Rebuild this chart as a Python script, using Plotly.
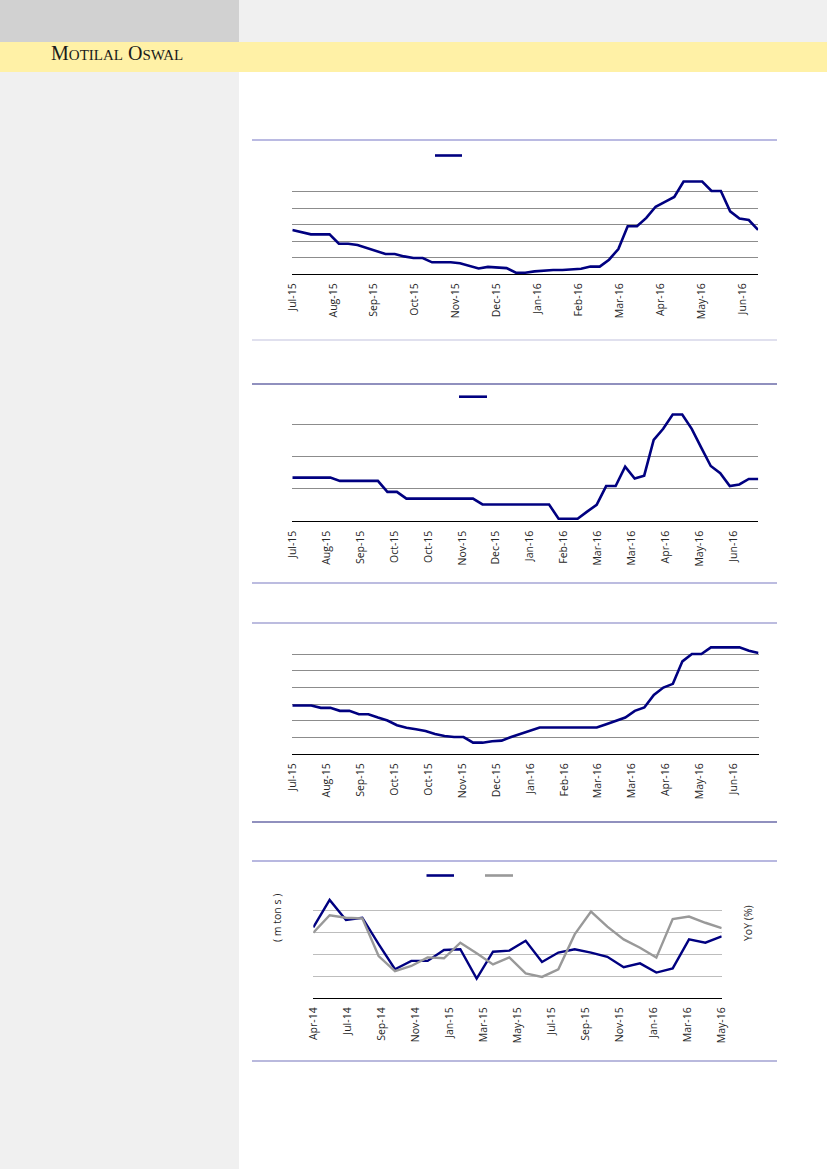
import plotly.graph_objects as go

W, H = 827, 1169

# ---------------- data ----------------
c1_values = [2.68, 2.55, 2.41, 2.41, 2.41, 1.84, 1.84, 1.76, 1.58, 1.40,
             1.22, 1.22, 1.07, 0.97, 0.97, 0.71, 0.71, 0.71, 0.65, 0.49,
             0.34, 0.43, 0.41, 0.36, 0.08, 0.08, 0.16, 0.22, 0.24, 0.24,
             0.28, 0.32, 0.45, 0.45, 0.87, 1.52, 2.90, 2.90, 3.41, 4.09,
             4.38, 4.68, 5.62, 5.62, 5.62, 5.05, 5.05, 3.81, 3.37, 3.28,
             2.68]
c1_ticks = ["Jul-15", "Aug-15", "Sep-15", "Oct-15", "Nov-15", "Dec-15",
            "Jan-16", "Feb-16", "Mar-16", "Apr-16", "May-16", "Jun-16"]

c2_values = [1.35, 1.35, 1.35, 1.35, 1.35, 1.25, 1.25, 1.25, 1.25, 1.25,
             0.91, 0.91, 0.70, 0.70, 0.70, 0.70, 0.70, 0.70, 0.70, 0.70,
             0.52, 0.52, 0.52, 0.52, 0.52, 0.52, 0.52, 0.52, 0.08, 0.08,
             0.08, 0.30, 0.51, 1.09, 1.09, 1.69, 1.32, 1.41, 2.52, 2.86,
             3.30, 3.30, 2.86, 2.28, 1.71, 1.49, 1.09, 1.14, 1.31, 1.31]
c2_ticks = ["Jul-15", "Aug-15", "Sep-15", "Oct-15", "Oct-15", "Nov-15",
            "Dec-15", "Jan-16", "Feb-16", "Mar-16", "Mar-16", "Apr-16",
            "May-16", "Jun-16"]

c3_values = [2.91, 2.91, 2.91, 2.77, 2.77, 2.59, 2.59, 2.39, 2.39, 2.19,
             2.01, 1.73, 1.57, 1.49, 1.38, 1.20, 1.08, 1.02, 1.02, 0.68,
             0.68, 0.77, 0.80, 1.02, 1.22, 1.40, 1.59, 1.59, 1.59, 1.59,
             1.59, 1.59, 1.59, 1.79, 1.99, 2.19, 2.59, 2.79, 3.55, 3.99,
             4.21, 5.56, 6.00, 6.00, 6.40, 6.40, 6.40, 6.40, 6.20, 6.06]
c3_ticks = ["Jul-15", "Aug-15", "Sep-15", "Oct-15", "Oct-15", "Nov-15",
            "Dec-15", "Jan-16", "Feb-16", "Mar-16", "Mar-16", "Apr-16",
            "May-16", "Jun-16"]

c4_volume = [3.22, 4.47, 3.56, 3.66, 2.46, 1.31, 1.69, 1.69, 2.19, 2.22,
             0.88, 2.11, 2.16, 2.61, 1.64, 2.07, 2.22, 2.07, 1.88, 1.40,
             1.58, 1.16, 1.35, 2.67, 2.52, 2.81]
c4_yoy = [2.98, 3.77, 3.66, 3.63, 1.91, 1.22, 1.46, 1.85, 1.81, 2.52,
          2.04, 1.53, 1.85, 1.12, 0.96, 1.31, 2.90, 3.94, 3.25, 2.67,
          2.29, 1.84, 3.60, 3.71, 3.43, 3.18]
c4_ticks = ["Apr-14", "Jul-14", "Sep-14", "Nov-14", "Jan-15", "Mar-15",
            "May-15", "Jul-15", "Sep-15", "Nov-15", "Jan-16", "Mar-16",
            "May-16"]

# ---------------- helpers ----------------
def px_x(v):
    return v / W

def px_y(v):
    return 1 - v / H

NAVY = "#000080"
TICKFONT = dict(family="Open Sans, Noto Sans, sans-serif", size=10.5, color="#262626")

fig = go.Figure()

charts = [
    # values, ticks, tick step (in points), x px range, y px (bottom, top), ymax, gridcolor
    (c1_values, c1_ticks, 4.39, (292.3, 758.1), (274.0, 175.3), 6.0, "#8c8c8c"),
    (c2_values, c2_ticks, 3.571, (292.3, 758.3), (521.3, 408.1), 3.5, "#8c8c8c"),
    (c3_values, c3_ticks, 3.571, (292.3, 758.5), (754.0, 640.7), 6.8, "#8c8c8c"),
]

layout = {}
for k, (vals, ticks, step, (x0, x1), (yb, yt), ymax, gc) in enumerate(charts, start=1):
    xa = "x" if k == 1 else f"x{k}"
    ya = "y" if k == 1 else f"y{k}"
    fig.add_trace(go.Scatter(x=list(range(len(vals))), y=vals, mode="lines",
                             line=dict(color=NAVY, width=2.6),
                             xaxis=xa, yaxis=ya, showlegend=False,
                             hoverinfo="skip"))
    layout[f"xaxis{'' if k == 1 else k}"] = dict(
        domain=[px_x(x0), px_x(x1)], anchor=ya, automargin=False,
        range=[0, len(vals) - 1], showgrid=False, zeroline=False,
        showline=True, linecolor="black", linewidth=1.3,
        tickmode="array",
        tickvals=[i * step for i in range(len(ticks))],
        ticktext=ticks, tickangle=-90, ticks="", tickfont=TICKFONT,
        ticklabelstandoff=4,
    )
    layout[f"yaxis{'' if k == 1 else k}"] = dict(
        domain=[px_y(yb), px_y(yt)], anchor=xa, automargin=False,
        range=[0, ymax], tick0=0, dtick=1, showgrid=True, gridcolor=gc,
        gridwidth=1, zeroline=False, showticklabels=False, showline=False,
        ticks="",
    )

# chart 4
x4 = list(range(len(c4_volume)))
fig.add_trace(go.Scatter(x=x4, y=c4_volume, mode="lines",
                         line=dict(color=NAVY, width=2.4),
                         xaxis="x4", yaxis="y4", showlegend=False, hoverinfo="skip"))
fig.add_trace(go.Scatter(x=x4, y=c4_yoy, mode="lines",
                         line=dict(color="#999999", width=2.4),
                         xaxis="x4", yaxis="y5", showlegend=False, hoverinfo="skip"))
step4 = (len(c4_volume) - 1) / (len(c4_ticks) - 1)
layout["xaxis4"] = dict(
    domain=[px_x(313.3), px_x(721.7)], anchor="y4", automargin=False,
    range=[0, len(c4_volume) - 1], showgrid=False, zeroline=False,
    showline=True, linecolor="black", linewidth=1.3,
    tickmode="array", tickvals=[i * step4 for i in range(len(c4_ticks))],
    ticktext=c4_ticks, tickangle=-90, ticks="", tickfont=TICKFONT,
    ticklabelstandoff=4,
)
layout["yaxis4"] = dict(
    domain=[px_y(998.0), px_y(888.3)], anchor="x4", automargin=False,
    range=[0, 5], tick0=0, dtick=1, showgrid=True, gridcolor="#bdbdbd",
    gridwidth=1, zeroline=False, showticklabels=False, ticks="",
)
layout["yaxis5"] = dict(
    overlaying="y4", side="right", anchor="x4", automargin=False,
    range=[0, 5], showgrid=False, zeroline=False, showticklabels=False,
    ticks="",
)

shapes = [
    # page background blocks
    dict(type="rect", xref="paper", yref="paper", x0=0, x1=px_x(239), y0=px_y(42), y1=1,
         fillcolor="#d1d1d1", line_width=0, layer="below"),
    dict(type="rect", xref="paper", yref="paper", x0=px_x(239), x1=1, y0=px_y(42), y1=1,
         fillcolor="#f0f0f0", line_width=0, layer="below"),
    dict(type="rect", xref="paper", yref="paper", x0=0, x1=1, y0=px_y(72), y1=px_y(42),
         fillcolor="#fff1a6", line_width=0, layer="below"),
    dict(type="rect", xref="paper", yref="paper", x0=0, x1=px_x(239), y0=0, y1=px_y(72),
         fillcolor="#f0f0f0", line_width=0, layer="below"),
]

# section rules
rules = [(140, "#7676c6", 1.2), (340, "#d6d6e8", 1.5), (384, "#23237e", 1.2),
         (583, "#a6a6d6", 1.5), (623, "#7a7ac0", 1.2), (822, "#22227e", 1.2),
         (861, "#7272c2", 1.2), (1061, "#7474bc", 1.2)]
for y, c, w in rules:
    shapes.append(dict(type="line", xref="paper", yref="paper",
                       x0=px_x(252), x1=px_x(777), y0=px_y(y), y1=px_y(y),
                       line=dict(color=c, width=w)))

# legend swatches (legend text absent in the original)
swatches = [(435, 462, 155.5, NAVY), (459, 487, 396.7, NAVY),
            (426.5, 454, 875.5, NAVY), (485, 513, 875.5, "#999999")]
for xa_, xb_, y, c in swatches:
    shapes.append(dict(type="line", xref="paper", yref="paper",
                       x0=px_x(xa_), x1=px_x(xb_), y0=px_y(y), y1=px_y(y),
                       line=dict(color=c, width=2.6)))

annotations = [
    dict(xref="paper", yref="paper", x=px_x(49), y=px_y(66), xanchor="left", yanchor="bottom",
         showarrow=False,
         text="M<span style='font-size:15px'>OTILAL</span> O<span style='font-size:15px'>SWAL</span>",
         font=dict(family="Liberation Serif, Times New Roman, serif", size=20, color="#1a1a1a")),
    dict(xref="paper", yref="paper", x=px_x(268), y=px_y(944), textangle=-90,
         showarrow=False, text="( m ton s )",
         font=dict(family="Open Sans, sans-serif", size=10.5, color="#262626")),
    dict(xref="paper", yref="paper", x=px_x(757), y=px_y(943), textangle=-90,
         showarrow=False, text="YoY (%)",
         font=dict(family="Open Sans, sans-serif", size=10.5, color="#262626")),
]

fig.update_layout(
    template="none",
    width=W, height=H, margin=dict(l=0, r=0, t=0, b=0, pad=0, autoexpand=False),
    paper_bgcolor="white", plot_bgcolor="rgba(0,0,0,0)",
    shapes=shapes, annotations=annotations, showlegend=False,
    **layout,
)

fig.write_html(
    "out.html",
    config={"displayModeBar": False},
    post_script="document.body.style.margin='0';",
)
